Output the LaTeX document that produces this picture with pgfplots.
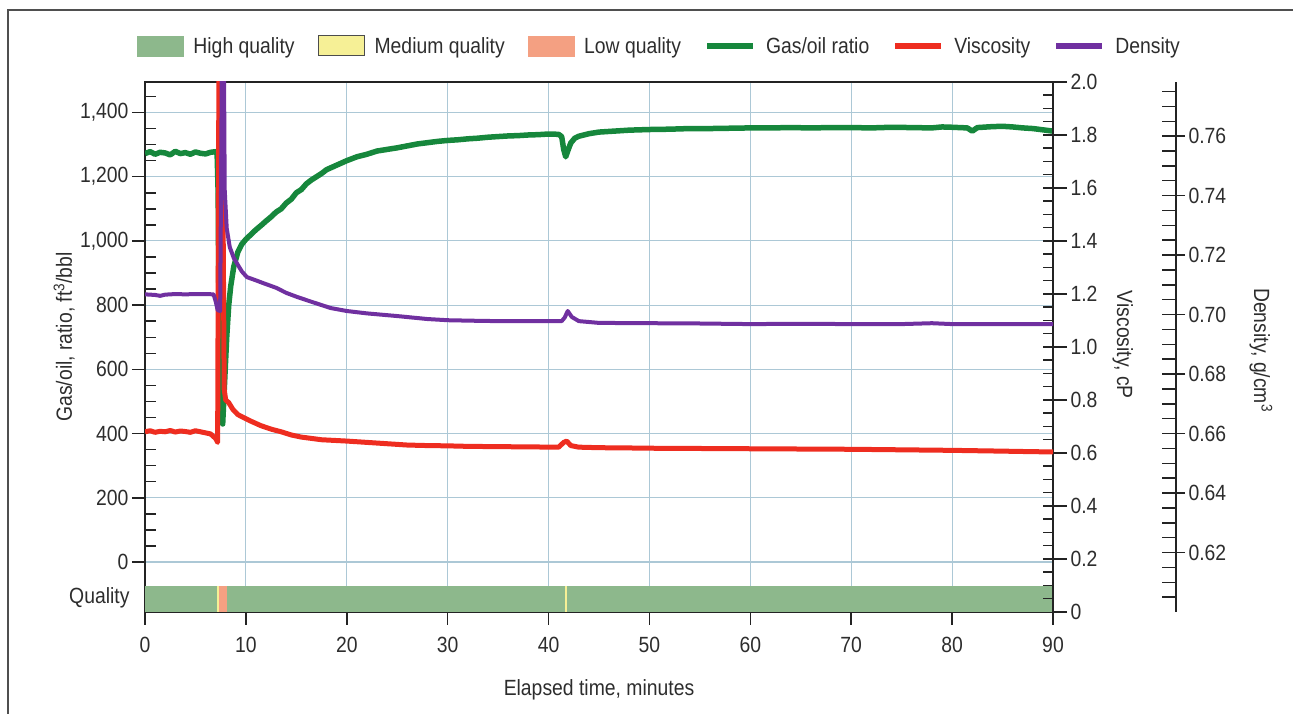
\documentclass[border=0pt]{standalone}
\usepackage{fontspec}
\setmainfont{Liberation Sans}[FakeStretch=0.88]
\usepackage{pgfplots}
\pgfplotsset{compat=1.18}

\definecolor{hq}{RGB}{141,184,140}
\definecolor{mq}{RGB}{246,240,150}
\definecolor{lq}{RGB}{244,160,130}
\definecolor{gor}{RGB}{22,135,60}
\definecolor{visc}{RGB}{238,45,32}
\definecolor{dens}{RGB}{112,48,160}
\definecolor{txt}{RGB}{45,45,45}
\definecolor{axc}{RGB}{35,35,35}
\definecolor{gridc}{RGB}{172,200,214}

\newcommand\cf{\fontsize{22bp}{26bp}\selectfont}

\pgfplotsset{
  base/.style={
    scale only axis, width=908bp, height=530bp, at={(145bp,102bp)},
    xmin=0, xmax=90, font=\cf,
    axis line style={line width=1.8bp, draw=axc},
    tick style={line width=1.5bp, draw=axc},
    /pgf/number format/assume math mode=true,
  },
}

\begin{document}
\begin{tikzpicture}[text=txt]

% gas/oil ratio axis (left), grid, quality bar, legend
\begin{axis}[base, clip mode=individual,
  ymin=-155.7, ymax=1495,
  xtick={0,10,...,90}, xtick pos=left, ytick pos=left,
  xticklabel style={yshift=-9bp},
  ytick={0,200,...,1400},
  yticklabels={0,200,400,600,800,{1,000},{1,200},{1,400}},
  tick align=outside, major tick length=13bp,
  xmajorgrids, ymajorgrids, grid style={line width=1.1bp, draw=gridc},
  extra y ticks={50,100,150,250,300,350,450,500,550,650,700,750,850,900,950,1050,1100,1150,1250,1300,1350,1450},
  extra y tick labels={},
  extra y tick style={grid=none, tick align=inside, major tick length=11bp},
  xlabel={Elapsed time, minutes},
  xlabel style={at={(axis description cs:0.5,-0.147)}, anchor=center},
  ylabel={Gas/oil, ratio, ft\textsuperscript{3}/bbl},
  ylabel style={at={(axis description cs:-0.089,0.519)}, anchor=center},
  legend style={at={(axis description cs:0.5666,1.068)}, anchor=center,
    draw=none, fill=none, legend columns=6, font=\cf,
    /tikz/every odd column/.append style={column sep=8bp},
    /tikz/every even column/.append style={column sep=21bp}},
]
\addlegendimage{legend image code/.code={\fill[hq] (0bp,-10bp) rectangle (46bp,10bp);}}
\addlegendentry{High quality}
\addlegendimage{legend image code/.code={\filldraw[fill=mq, draw=gray!60!black, line width=1bp] (0bp,-10bp) rectangle (46bp,10bp);}}
\addlegendentry{Medium quality}
\addlegendimage{legend image code/.code={\fill[lq] (0bp,-10bp) rectangle (46bp,10bp);}}
\addlegendentry{Low quality}
\addlegendimage{legend image code/.code={\draw[gor, line width=6bp] (0bp,0bp) -- (46bp,0bp);}}
\addlegendentry{Gas/oil ratio}
\addlegendimage{legend image code/.code={\draw[visc, line width=6bp] (0bp,0bp) -- (46bp,0bp);}}
\addlegendentry{Viscosity}
\addlegendimage{legend image code/.code={\draw[dens, line width=6bp] (0bp,0bp) -- (46bp,0bp);}}
\addlegendentry{Density}

\addplot[fill=hq, draw=none, forget plot] coordinates {(0,-160) (0,-74.7) (90,-74.7) (90,-160)} -- cycle;
\addplot[fill=mq, draw=none, forget plot] coordinates {(7.15,-160) (7.15,-74.7) (7.35,-74.7) (7.35,-160)} -- cycle;
\addplot[fill=lq, draw=none, forget plot] coordinates {(7.35,-160) (7.35,-74.7) (8.1,-74.7) (8.1,-160)} -- cycle;
\addplot[fill=mq, draw=none, forget plot] coordinates {(41.6,-160) (41.6,-74.7) (41.85,-74.7) (41.85,-160)} -- cycle;

\addplot[gor, line width=5.5bp, line join=round, forget plot] coordinates {
(0,1272) (0.5,1278) (1,1270) (1.5,1276) (2,1274) (2.5,1268) (3,1279) (3.5,1272)
(4,1275) (4.5,1270) (5,1277) (5.5,1273) (6,1271) (6.5,1276) (7.0,1278) (7.15,1270)
(7.25,1150) (7.4,450) (7.7,430) (7.95,600) (8.1,700) (8.3,800) (8.5,860) (8.8,920)
(9.2,965) (9.6,990) (10,1005) (10.5,1020) (11,1035) (11.5,1048) (12,1062) (12.5,1075)
(13,1090) (13.5,1100) (14,1118) (14.5,1130) (15,1150) (15.5,1160) (16,1178) (16.5,1190)
(17,1200) (17.5,1210) (18,1222) (19,1236) (20,1250) (21,1262) (22,1270) (23,1280)
(24,1285) (25,1290) (26,1296) (27,1302) (28,1306) (29,1310) (30,1313) (31,1315)
(32,1318) (33,1320) (34,1323) (35,1325) (36,1327) (37,1328) (38,1330) (39,1331)
(40,1333) (41,1332) (41.3,1325) (41.5,1285) (41.7,1262) (41.9,1280) (42.2,1305) (42.6,1320)
(43,1326) (44,1334) (45,1339) (46,1341) (47,1343) (48,1345) (50,1347) (52,1348)
(54,1350) (56,1350) (58,1351) (60,1352) (62,1352) (64,1353) (66,1352) (68,1353)
(70,1353) (72,1352) (74,1354) (76,1353) (78,1352) (79,1355) (80,1354) (81.5,1352)
(82,1342) (82.5,1353) (84,1356) (85,1357) (86,1355) (87,1352) (88,1350) (89,1346) (90,1342)
};
\node[anchor=east] at (axis description cs:-0.0132,0.0264) {Quality};
\end{axis}

% viscosity axis (right)
\begin{axis}[base,
  ymin=0, ymax=2, axis x line=none, axis y line*=right, xtick=\empty,
  ytick={0,0.2,...,2.0},
  yticklabels={0,0.2,0.4,0.6,0.8,1.0,1.2,1.4,1.6,1.8,2.0},
  tick align=outside, major tick length=14bp,
  extra y ticks={0.05,0.1,0.15,0.2,0.25,0.3,0.35,0.4,0.45,0.5,0.55,0.6,0.65,0.7,0.75,0.8,0.85,0.9,0.95,1.0,1.05,1.1,1.15,1.2,1.25,1.3,1.35,1.4,1.45,1.5,1.55,1.6,1.65,1.7,1.75,1.8,1.85,1.9,1.95},
  extra y tick labels={},
  extra y tick style={tick align=inside, major tick length=10bp},
  ylabel={Viscosity, cP},
  ylabel style={at={(axis description cs:1.077,0.504)}, anchor=center, rotate=180},
]
\addplot[visc, line width=5bp, line join=round] coordinates {
(0,0.68) (0.5,0.684) (1,0.678) (1.5,0.682) (2,0.68) (2.5,0.685) (3,0.679) (3.5,0.683)
(4,0.681) (4.5,0.678) (5,0.684) (5.5,0.68) (6,0.676) (6.5,0.672) (7.0,0.655) (7.2,0.64)
(7.35,2.3) (7.6,2.3) (7.85,0.84) (8.0,0.80) (8.3,0.79) (8.7,0.765) (9.2,0.745) (9.7,0.735)
(10.5,0.72) (11.5,0.703) (12.5,0.69) (13.5,0.68) (14.5,0.668) (15.5,0.66) (16.5,0.655)
(17.5,0.65) (18.5,0.648) (20,0.645) (22,0.64) (24,0.635) (26,0.63) (28,0.628) (30,0.627)
(32,0.625) (35,0.624) (38,0.623) (41,0.622) (41.5,0.64) (41.8,0.645) (42.2,0.628) (43,0.622)
(45,0.62) (48,0.619) (50,0.618) (55,0.617) (60,0.616) (65,0.615) (70,0.614) (75,0.612)
(80,0.61) (85,0.607) (88,0.605) (90,0.604)
};
\end{axis}

% density axis (outer right)
\begin{axis}[base, width=1031bp, xmax=102.19,
  ymin=0.60, ymax=0.7782, axis x line=none, axis y line*=right, xtick=\empty,
  ytick={0.62,0.64,0.66,0.68,0.70,0.72,0.74,0.76},
  yticklabels={0.62,0.64,0.66,0.68,0.70,0.72,0.74,0.76},
  tick align=outside, major tick length=9bp,
  extra y ticks={0.605,0.61,0.615,0.62,0.625,0.63,0.635,0.64,0.645,0.65,0.655,0.66,0.665,0.67,0.675,0.68,0.685,0.69,0.695,0.70,0.705,0.71,0.715,0.72,0.725,0.73,0.735,0.74,0.745,0.75,0.755,0.76,0.765,0.77,0.775},
  extra y tick labels={},
  extra y tick style={tick align=inside, major tick length=14bp},
  ylabel={Density, g/cm\textsuperscript{3}},
  ylabel style={at={(axis description cs:1.0825,0.494)}, anchor=center, rotate=180},
]
\addplot[dens, line width=4bp, line join=round] coordinates {
(0,0.7068) (1,0.7066) (1.5,0.7063) (2,0.7067) (3,0.7069) (4,0.7068) (5,0.7069) (6,0.7069)
(6.8,0.7068) (7.0,0.7045) (7.2,0.7015) (7.45,0.7012) (7.55,0.75) (7.65,0.80) (7.8,0.80)
(7.9,0.742) (8.1,0.729) (8.4,0.7227) (8.8,0.719) (9.1,0.7173) (9.6,0.7145) (10.1,0.7126)
(11,0.7115) (11.7,0.7106) (13,0.709) (14,0.7073) (15.1,0.7059) (16.5,0.7043) (18.4,0.7022)
(20,0.7012) (22,0.7004) (25,0.6995) (28,0.6985) (30,0.6981) (33,0.6979) (35,0.6978)
(38,0.6978) (41.3,0.6978) (41.6,0.699) (41.9,0.7012) (42.3,0.6992) (43,0.6978) (45,0.6972)
(50,0.6971) (55,0.697) (60,0.6968) (65,0.6969) (70,0.6968) (75,0.6968) (78,0.6971)
(80,0.6968) (85,0.6968) (90,0.6968)
};
\end{axis}

\draw[line width=1.5bp, draw=axc!80] (8bp,0bp) -- (8bp,704bp) -- (1293bp,704bp);
\pgfresetboundingbox
\useasboundingbox (0bp,0bp) rectangle (1293bp,714bp);
\end{tikzpicture}
\end{document}
